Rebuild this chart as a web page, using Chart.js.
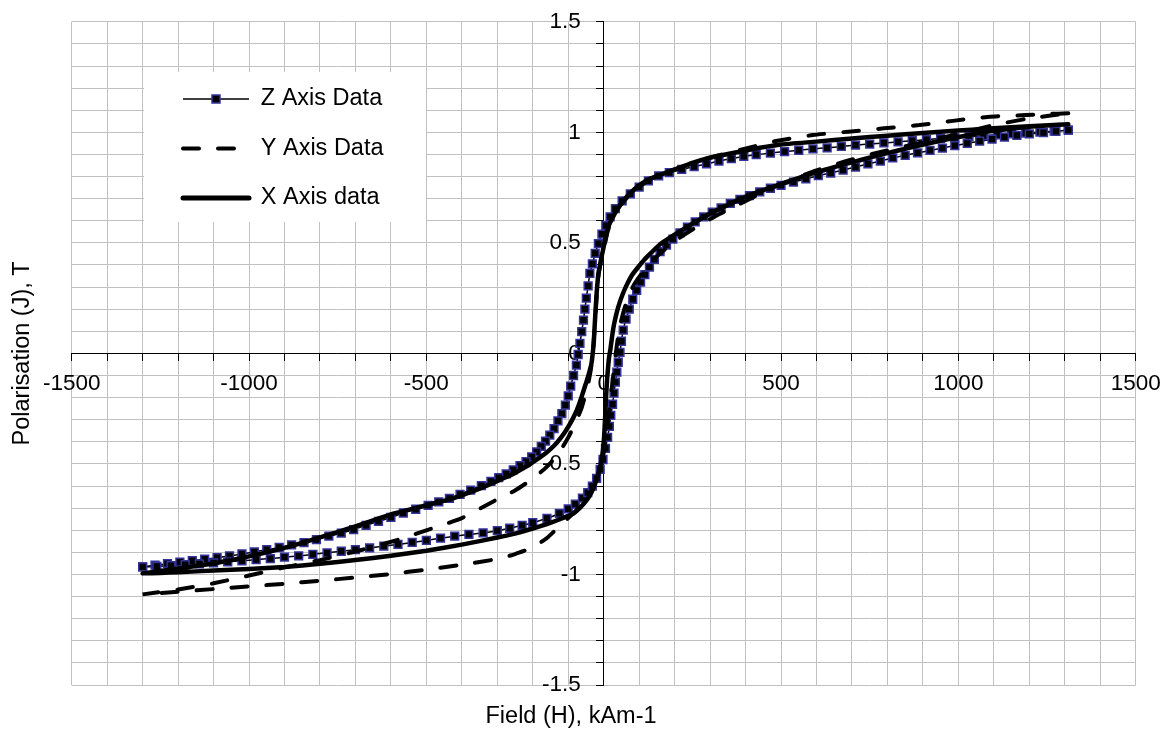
<!DOCTYPE html>
<html>
<head>
<meta charset="utf-8">
<script src="https://cdn.jsdelivr.net/npm/chart.js@4.4.1/dist/chart.umd.min.js"></script>
<style>
html,body{margin:0;padding:0;background:#ffffff;}
canvas{display:block;}
</style>
</head>
<body>
<canvas id="chart" width="1166" height="731"></canvas>
<script>
// ---------------- data ----------------
const seriesNames = ['Z Axis Data', 'Y Axis Data', 'X Axis data'];
const xTickLabels = ['-1500', '-1000', '-500', '0', '500', '1000', '1500'];
const yTickLabels = ['-1.5', '-1', '-0.5', '0', '0.5', '1', '1.5'];
const xAxisTitle = 'Field (H), kAm-1';
const yAxisTitle = 'Polarisation (J), T';

// Z axis data: [field H, polarisation J]; descending branch then ascending branch
const zDescending = [
  [1310,1.010],[1270,1.005],[1230,1.001],[1190,0.997],[1150,0.993],[1110,0.989],[1070,0.985],[1030,0.980],
  [990,0.976],[950,0.972],[910,0.967],[870,0.962],[830,0.957],[790,0.952],[750,0.947],[710,0.942],
  [670,0.936],[630,0.930],[590,0.925],[550,0.919],[510,0.913],[470,0.906],[430,0.899],[395,0.891],
  [360,0.881],[325,0.870],[290,0.857],[255,0.845],[220,0.832],[185,0.818],[155,0.803],[126,0.780],
  [100,0.752],[75,0.722],[52,0.690],[33,0.655],[18,0.618],[6,0.578],[-5,0.540],[-15,0.497],
  [-24,0.452],[-32,0.405],[-39,0.362],[-44,0.305],[-49,0.250],[-53,0.200],[-57,0.151],[-62,0.098],
  [-67,0.045],[-72,-0.005],[-77,-0.053],[-85,-0.100],[-93,-0.148],[-100,-0.192],[-108,-0.234],[-118,-0.272],
  [-129,-0.305],[-140,-0.340],[-152,-0.370],[-164,-0.397],[-176,-0.421],[-189,-0.445],[-203,-0.468],[-219,-0.490],
  [-236,-0.508],[-255,-0.527],[-275,-0.545],[-296,-0.562],[-318,-0.579],[-345,-0.598],[-375,-0.618],[-405,-0.638],
  [-435,-0.656],[-465,-0.672],[-495,-0.687],[-530,-0.705],[-565,-0.722],[-600,-0.742],[-635,-0.760],[-670,-0.778],
  [-705,-0.797],[-740,-0.813],[-775,-0.827],[-810,-0.842],[-845,-0.856],[-880,-0.866],[-915,-0.878],[-950,-0.888],
  [-985,-0.898],[-1020,-0.907],[-1055,-0.916],[-1090,-0.924],[-1125,-0.931],[-1160,-0.938],[-1195,-0.944],[-1230,-0.951],
  [-1265,-0.958],[-1300,-0.966]
];
const zAscending = [
  [-1300,-0.966],[-1260,-0.964],[-1220,-0.960],[-1180,-0.956],[-1140,-0.952],[-1100,-0.948],[-1060,-0.943],[-1020,-0.938],
  [-980,-0.933],[-940,-0.928],[-900,-0.922],[-860,-0.916],[-820,-0.909],[-780,-0.902],[-740,-0.895],[-700,-0.888],
  [-660,-0.880],[-620,-0.872],[-580,-0.864],[-540,-0.855],[-500,-0.846],[-460,-0.836],[-420,-0.827],[-380,-0.819],
  [-340,-0.812],[-300,-0.802],[-265,-0.791],[-230,-0.778],[-200,-0.766],[-160,-0.746],[-125,-0.724],[-100,-0.703],
  [-80,-0.682],[-60,-0.655],[-45,-0.630],[-32,-0.600],[-20,-0.565],[-10,-0.525],[-2,-0.480],[5,-0.430],
  [11,-0.380],[16,-0.330],[20,-0.280],[25,-0.230],[29,-0.180],[33,-0.130],[37,-0.085],[41,-0.040],
  [46,0.005],[50,0.055],[55,0.105],[63,0.155],[72,0.200],[82,0.245],[93,0.285],[104,0.322],
  [116,0.356],[129,0.390],[143,0.425],[159,0.460],[177,0.490],[195,0.517],[215,0.545],[236,0.571],
  [258,0.595],[282,0.618],[306,0.639],[331,0.658],[357,0.679],[384,0.697],[411,0.714],[440,0.731],
  [470,0.747],[500,0.760],[535,0.775],[570,0.790],[605,0.804],[640,0.816],[675,0.829],[710,0.843],
  [745,0.857],[780,0.870],[815,0.884],[850,0.896],[885,0.907],[920,0.918],[955,0.929],[990,0.940],
  [1025,0.950],[1060,0.960],[1095,0.969],[1130,0.978],[1165,0.986],[1200,0.993],[1240,0.999],[1275,1.004],
  [1310,1.010]
];

// Y axis data (dashed)
const yDescending = [
  [1310,1.086],[1250,1.083],[1190,1.078],[1090,1.071],[990,1.053],[890,1.033],[790,1.018],[690,1.003],
  [590,0.988],[490,0.962],[384,0.920],[290,0.882],[196,0.829],[130,0.788],[75,0.720],[40,0.655],
  [15,0.575],[4,0.500],[-6,0.430],[-14,0.360],[-19,0.280],[-23,0.180],[-27,0.080],[-31,0.000],
  [-36,-0.070],[-43,-0.130],[-52,-0.190],[-63,-0.250],[-78,-0.310],[-100,-0.380],[-130,-0.460],[-165,-0.520],
  [-203,-0.570],[-250,-0.620],[-300,-0.660],[-400,-0.745],[-480,-0.790],[-580,-0.843],[-680,-0.888],[-800,-0.935],
  [-900,-0.968],[-1000,-1.005],[-1100,-1.040],[-1200,-1.068],[-1300,-1.090]
];
const yAscending = [
  [-1300,-1.090],[-1200,-1.078],[-1100,-1.066],[-1000,-1.054],[-900,-1.042],[-800,-1.028],[-700,-1.014],[-600,-0.998],
  [-500,-0.978],[-400,-0.956],[-300,-0.930],[-250,-0.908],[-200,-0.878],[-160,-0.835],[-120,-0.775],[-80,-0.715],
  [-50,-0.660],[-29,-0.604],[-15,-0.550],[-5,-0.490],[3,-0.420],[9,-0.350],[14,-0.280],[19,-0.210],
  [24,-0.140],[29,-0.070],[34,0.000],[40,0.070],[48,0.140],[58,0.200],[70,0.260],[85,0.310],
  [102,0.350],[120,0.390],[140,0.425],[165,0.460],[195,0.500],[230,0.540],[270,0.580],[320,0.625],
  [370,0.665],[420,0.705],[470,0.745],[525,0.783],[600,0.828],[680,0.868],[760,0.903],[845,0.935],
  [920,0.963],[1000,0.993],[1100,1.033],[1200,1.063],[1310,1.086]
];

// X axis data (thick solid)
const xDescending = [
  [1310,1.037],[1200,1.028],[1100,1.018],[1000,1.008],[900,0.997],[800,0.985],[700,0.972],[600,0.958],
  [500,0.945],[440,0.930],[400,0.917],[350,0.902],[300,0.885],[250,0.862],[200,0.832],[160,0.808],
  [130,0.790],[100,0.760],[74,0.724],[55,0.690],[37,0.648],[24,0.610],[13,0.573],[7,0.535],
  [2,0.498],[-3,0.460],[-7,0.430],[-11,0.395],[-15,0.362],[-18,0.310],[-20,0.271],[-22,0.220],
  [-24,0.166],[-26,0.110],[-28,0.050],[-31,0.000],[-34,-0.040],[-38,-0.070],[-45,-0.110],[-53,-0.150],
  [-61,-0.190],[-70,-0.232],[-80,-0.272],[-92,-0.310],[-105,-0.345],[-120,-0.380],[-140,-0.418],[-161,-0.448],
  [-185,-0.476],[-208,-0.502],[-230,-0.522],[-255,-0.545],[-290,-0.570],[-325,-0.595],[-350,-0.612],[-400,-0.642],
  [-443,-0.664],[-490,-0.683],[-537,-0.702],[-590,-0.724],[-650,-0.755],[-700,-0.782],[-750,-0.808],[-800,-0.832],
  [-850,-0.857],[-900,-0.880],[-950,-0.900],[-1000,-0.918],[-1050,-0.935],[-1100,-0.950],[-1150,-0.962],[-1200,-0.973],
  [-1250,-0.984],[-1300,-0.995]
];
const xAscending = [
  [-1300,-0.995],[-1250,-0.993],[-1200,-0.990],[-1100,-0.982],[-1000,-0.975],[-900,-0.966],[-800,-0.952],[-700,-0.935],
  [-600,-0.915],[-500,-0.893],[-400,-0.865],[-300,-0.833],[-250,-0.815],[-200,-0.792],[-160,-0.772],[-120,-0.748],
  [-86,-0.724],[-65,-0.695],[-48,-0.664],[-35,-0.630],[-24,-0.588],[-16,-0.550],[-10,-0.513],[-5,-0.470],
  [-2,-0.438],[1,-0.380],[3,-0.320],[5,-0.260],[7,-0.190],[9,-0.130],[12,-0.070],[15,-0.020],
  [19,0.020],[24,0.080],[29,0.130],[36,0.180],[44,0.225],[54,0.270],[65,0.310],[80,0.355],
  [97,0.390],[115,0.425],[135,0.457],[160,0.495],[190,0.527],[225,0.562],[260,0.596],[300,0.633],
  [340,0.664],[384,0.698],[430,0.727],[478,0.754],[530,0.783],[580,0.810],[630,0.833],[680,0.856],
  [730,0.877],[780,0.898],[830,0.918],[880,0.937],[930,0.955],[980,0.972],[1030,0.988],[1080,1.002],
  [1130,1.013],[1200,1.025],[1250,1.031],[1310,1.037]
];

// ---------------- styling ----------------
const FONT = "'Liberation Sans', Arial, Helvetica, sans-serif";
Chart.defaults.font.family = FONT;
Chart.defaults.color = '#000000';

const toPoints = (...branches) => branches.flat().map(([x, y]) => ({x, y}));

// legend sample for the marker series: thin line with square marker
function markerLineIcon(w) {
  const c = document.createElement('canvas');
  c.width = w; c.height = 12;
  const g = c.getContext('2d');
  g.strokeStyle = '#000000'; g.lineWidth = 1.5;
  g.beginPath(); g.moveTo(0, 6); g.lineTo(w, 6); g.stroke();
  const m = w / 2 - 4;
  g.fillStyle = '#000000'; g.fillRect(m, 2, 8, 8);
  g.strokeStyle = '#333399'; g.lineWidth = 1.5; g.strokeRect(m, 2, 8, 8);
  return c;
}
const LEGEND_SAMPLE_W = 66;
const zIcon = markerLineIcon(LEGEND_SAMPLE_W);

const legendStyles = [
  {pointStyle: zIcon, lineWidth: 1.5, lineDash: [], lineCap: 'butt'},
  {pointStyle: 'line', lineWidth: 4, lineDash: [16, 19], lineCap: 'round'},
  {pointStyle: 'line', lineWidth: 5, lineDash: [], lineCap: 'round'}
];

const legendPlacement = {
  id: 'legendPlacement',
  afterLayout(chart, args, opts) {
    const lg = chart.legend;
    if (!lg) return;
    lg.left = opts.left;
    lg.top = opts.top;
    lg.right = chart.chartArea.right;
    lg.bottom = chart.chartArea.bottom;
    if (!lg._whiteWrapped) {
      const orig = lg.draw;
      lg.draw = function () {
        const ctx = chart.ctx;
        ctx.save();
        ctx.fillStyle = '#ffffff';
        ctx.fillRect(opts.boxLeft, opts.boxTop, opts.boxRight - opts.boxLeft, opts.boxBottom - opts.boxTop);
        ctx.restore();
        return orig.apply(this, arguments);
      };
      lg._whiteWrapped = true;
    }
  }
};

new Chart(document.getElementById('chart'), {
  type: 'scatter',
  data: {
    datasets: [
      {
        label: seriesNames[0],
        data: toPoints(zDescending, zAscending),
        showLine: true,
        borderColor: '#000000',
        borderWidth: 1.5,
        pointStyle: 'rect',
        pointRadius: 5.5,
        pointBorderWidth: 1.5,
        pointBorderColor: '#333399',
        pointBackgroundColor: '#000000',
        tension: 0.15,
        order: 3
      },
      {
        label: seriesNames[1],
        data: toPoints(yDescending, yAscending),
        showLine: true,
        borderColor: '#000000',
        borderWidth: 4,
        borderDash: [16, 19],
        borderCapStyle: 'round',
        pointRadius: 0,
        tension: 0.15,
        order: 2
      },
      {
        label: seriesNames[2],
        data: toPoints(xDescending, xAscending),
        showLine: true,
        borderColor: '#000000',
        borderWidth: 4.5,
        borderCapStyle: 'round',
        borderJoinStyle: 'round',
        pointRadius: 0,
        tension: 0.15,
        order: 1
      }
    ]
  },
  options: {
    responsive: false,
    animation: false,
    devicePixelRatio: 1,
    layout: {padding: {left: 6.3, right: 30.3, top: 21.8, bottom: 0}},
    scales: {
      x: {
        type: 'linear',
        position: 'center',
        min: -1500, max: 1500,
        ticks: {
          stepSize: 100, autoSkip: false, maxRotation: 0, padding: 4,
          color: '#000000', font: {size: 22.5, lineHeight: 1.71},
          callback: (v) => xTickLabels.includes(String(v)) ? String(v) : ''
        },
        grid: {color: '#c0c0c0', lineWidth: 1, tickColor: '#000000', tickLength: 7},
        border: {color: '#000000', width: 1}
      },
      y: {
        type: 'linear',
        position: 'center',
        min: -1.5, max: 1.5,
        ticks: {
          stepSize: 0.1, autoSkip: false, padding: 16,
          color: '#000000', font: {size: 22.5, lineHeight: 0.5},
          callback: (v) => { const s = String(Math.round(v * 10) / 10); return yTickLabels.includes(s) ? s : ''; }
        },
        grid: {color: '#c0c0c0', lineWidth: 1, tickColor: '#000000', tickLength: 7},
        border: {color: '#000000', width: 1}
      }
    },
    plugins: {
      tooltip: {enabled: false},
      title: {
        display: true, text: yAxisTitle, position: 'left', fullSize: false,
        color: '#000000', font: {size: 23.5, weight: 'normal', lineHeight: 1.2},
        padding: {top: 2.6, bottom: 34.6}
      },
      subtitle: {
        display: true, text: xAxisTitle, position: 'bottom', fullSize: true,
        color: '#000000', font: {size: 23.5, weight: 'normal', lineHeight: 1.2},
        padding: {top: 17.8, bottom: 0}
      },
      legend: {
        position: 'chartArea',
        align: 'start',
        labels: {
          usePointStyle: true,
          pointStyleWidth: LEGEND_SAMPLE_W,
          padding: 26,
          color: '#000000',
          font: {size: 23.5},
          generateLabels(chart) {
            return chart.data.datasets.map((ds, i) => ({
              text: ds.label,
              datasetIndex: i,
              hidden: false,
              fontColor: '#000000',
              fillStyle: 'rgba(0,0,0,0)',
              strokeStyle: '#000000',
              lineWidth: legendStyles[i].lineWidth,
              lineDash: legendStyles[i].lineDash,
              lineCap: legendStyles[i].lineCap,
              pointStyle: legendStyles[i].pointStyle
            }));
          }
        }
      },
      legendPlacement: {left: 157, top: 61.25, boxLeft: 144, boxTop: 72, boxRight: 426, boxBottom: 222}
    }
  },
  plugins: [legendPlacement]
});
</script>
</body>
</html>
